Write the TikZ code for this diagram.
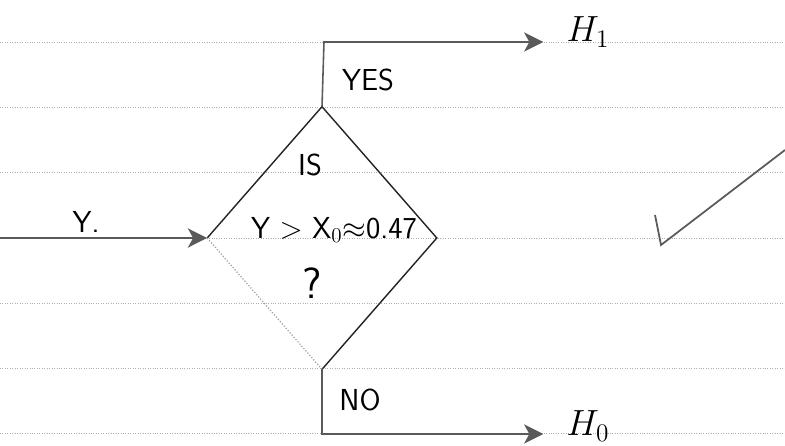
\documentclass[tikz,border=0pt]{standalone}
\definecolor{PaperRule}{RGB}{175,175,175}
\definecolor{PenDark}{RGB}{35,35,35}
\definecolor{PenGrey}{RGB}{90,90,90}
\definecolor{PenLight}{RGB}{160,160,160}
\usetikzlibrary{arrows.meta,positioning,shapes.geometric}

\begin{document}
\begin{tikzpicture}[x=0.02cm,y=-0.02cm,
  pen/.style={PenDark,line width=0.8pt},
  flow/.style={PenGrey,line width=0.9pt,-{Stealth[length=11pt,width=11pt,inset=3pt]}},
  lbl/.style={font=\sffamily\LARGE,inner sep=1pt}]
\useasboundingbox (0,0) rectangle (785,446);
% ruled paper
\foreach \ry in {42,107.3,172.6,237.9,303.2,368.5,433.8}
  \draw[PaperRule,densely dotted,line width=0.4pt] (0,\ry) -- (785,\ry);
% decision box
\node[diamond,minimum width=4.58cm,minimum height=5.24cm,inner sep=0pt] (test) at (322,238) {};
\draw[pen] (test.west) -- (test.north) -- (test.east) -- (test.south);
\draw[PenLight,densely dotted,line width=0.7pt] (test.south) -- (test.west);
\node[lbl] (is) at (310,165) {IS};
\node[inner sep=1pt,font=\sffamily\LARGE] (cond) at (334,230) {Y $>$ X$_0$$\approx$0.47};
\node[inner sep=1pt,font=\sffamily\Huge] (ask) at (312,283) {?};
% input
\coordinate (src) at (0,238);
\node[lbl] (yin) at (86,222) {Y.};
\draw[flow] (src) -- (test.west);
% yes branch
\node[inner sep=1pt,font=\huge] (hone) at (588,32) {$H_1$};
\coordinate (yescorner) at (324,42);
\draw[flow,shorten >=12pt] (test.north) -- (yescorner) -- (yescorner -| hone.west);
\node[lbl] (yes) at (368,80) {YES};
% no branch
\node[inner sep=1pt,font=\huge] (hzero) at (588,426) {$H_0$};
\coordinate (nocorner) at (322,434);
\draw[flow,shorten >=12pt] (test.south) -- (nocorner) -- (nocorner -| hzero.west);
\node[lbl] (no) at (360,400) {NO};
% tick
\draw[PenGrey,line width=1pt] (655,215) -- (661,245) -- (785,150);
\end{tikzpicture}
\end{document}
